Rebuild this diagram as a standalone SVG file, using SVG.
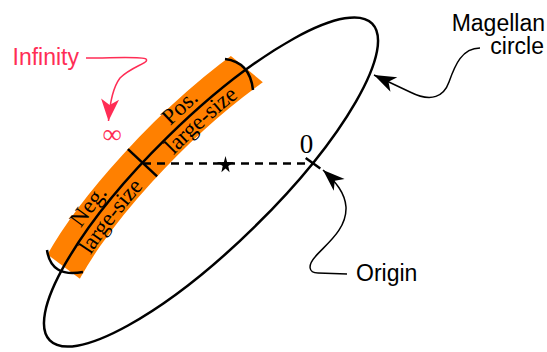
<svg xmlns="http://www.w3.org/2000/svg" width="547" height="352" viewBox="0 0 547 352">
<style>
.sans{font-family:"Liberation Sans",Arial,sans-serif;font-size:23px}
.serif{font-family:"Liberation Serif","Times New Roman",serif;font-size:23px}
.blk{fill:none;stroke:#000;stroke-width:2.5}
.red{fill:#ff2d55}
</style>
<defs>
<marker id="stealth" markerUnits="userSpaceOnUse" markerWidth="30" markerHeight="24" viewBox="-24 -12 30 24" refX="0" refY="0" orient="auto">
<path d="M0,0 L-22,-8 L-16,0 L-22,8 Z" fill="#000"/>
</marker>
<marker id="stealthRed" markerUnits="userSpaceOnUse" markerWidth="30" markerHeight="24" viewBox="-24 -12 30 24" refX="0" refY="0" orient="auto">
<path d="M0,0 L-22,-9 L-16,0 L-22,9 Z" fill="#ff2d55"/>
</marker>
<clipPath id="bandClip">
<polygon points="185.3,18.7 284.2,99.7 103.3,296.2 -3,216.8"/>
</clipPath>
<path id="lowerArc" d="M61.89,269.89 A226,62.5 -44.5 0 1 142.52,162.75"/>
<path id="upperArc" d="M142.52,162.75 A226,62.5 -44.5 0 1 245.16,70.37"/>
</defs>

<g id="band">
<path d="M52.86,288.39 A226,62.5 -44.5 0 1 264.84,56.46" fill="none" stroke="#ff8000" stroke-width="40" clip-path="url(#bandClip)"/>
</g>

<g id="magellan-circle">
<ellipse cx="211" cy="182" rx="226" ry="62.5" transform="rotate(-44.5 211 182)" class="blk"/>
<path d="M225,59 Q250,62 253,90" class="blk"/>
<path d="M47,250 Q51,278 83,272" class="blk"/>
<line x1="127.9" y1="149.1" x2="157.1" y2="176.4" class="blk"/>
</g>

<g id="band-labels" class="serif">
<text><textPath href="#upperArc" startOffset="47%" text-anchor="middle"><tspan dy="-6">Pos.</tspan></textPath></text>
<text><textPath href="#upperArc" startOffset="52%" text-anchor="middle"><tspan dy="17">large-size</tspan></textPath></text>
<text><textPath href="#lowerArc" startOffset="50%" text-anchor="middle"><tspan dy="-6">Neg.</tspan></textPath></text>
<text><textPath href="#lowerArc" startOffset="54%" text-anchor="middle"><tspan dy="17">large-size</tspan></textPath></text>
</g>

<g id="origin-point">
<line x1="305.7" y1="158" x2="320.3" y2="168.5" class="blk"/>
<text x="306.5" y="153" class="serif" text-anchor="middle" style="font-size:27px">0</text>
</g>

<g id="star">
<polygon points="225.5,156 227.1,162.1 234.1,162.2 228.3,166.1 229.6,172.3 225.5,168.6 221.4,172.3 222.7,166.1 216.9,162.2 223.9,162.1" fill="#000"/>
</g>

<g id="infinity-label">
<text x="12.5" y="65" class="sans red">Infinity</text>
<text x="112" y="143" class="serif red" text-anchor="middle" style="font-size:27px">∞</text>
</g>

<g id="magellan-label">
<text x="545" y="31" class="sans" text-anchor="end">Magellan</text>
<text x="544" y="54" class="sans" text-anchor="end">circle</text>
</g>

<g id="origin-label">
<text x="356" y="281" class="sans">Origin</text>
</g>

<g id="connectors">
<line x1="143" y1="163.5" x2="313" y2="163.5" stroke="#000" stroke-width="2.5" stroke-dasharray="8,6"/>
<path d="M86,58 C112,58 142,56 146,59 C150,63 132,66 120,78 C114,86 110,100 108.5,121" fill="none" stroke="#ff2d55" stroke-width="1.5" marker-end="url(#stealthRed)"/>
<path d="M480,48 C462,48 455,65 449,82 C444,96 432,103 410,92 L374,75" fill="none" stroke="#000" stroke-width="1.5" marker-end="url(#stealth)"/>
<path d="M347,274 L318,273 C308,273 308,265 315,257 C325,245 347,230 346,207 C345,193 336,182 323,170" fill="none" stroke="#000" stroke-width="1.5" marker-end="url(#stealth)"/>
</g>
</svg>
